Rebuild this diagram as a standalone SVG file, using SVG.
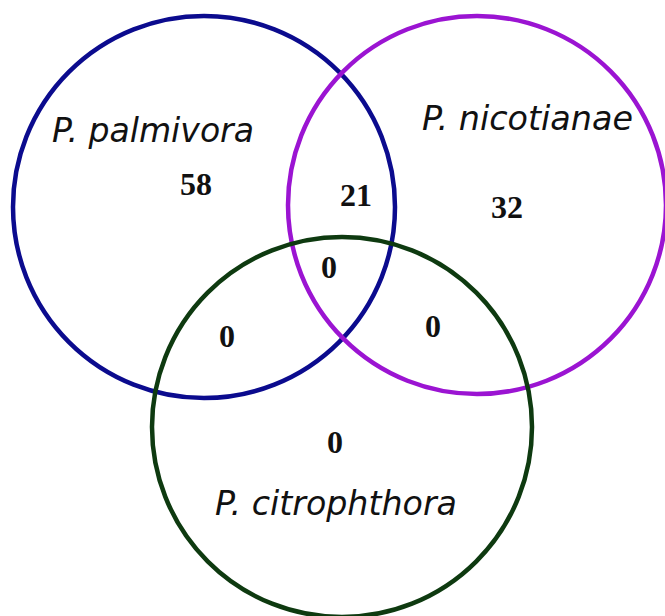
<svg xmlns="http://www.w3.org/2000/svg" width="665" height="616" viewBox="0 0 665 616">
<style>
.c{fill:none;stroke-width:4.5}
.lab{font-family:"DejaVu Sans",Verdana,sans-serif;font-style:italic;font-size:34px;fill:#111}
.num{font-family:"Liberation Serif","Times New Roman",serif;font-weight:bold;font-size:32px;fill:#111;text-anchor:middle}
</style>
<rect width="665" height="616" fill="#fff"/>
<g id="connectors"></g>
<g id="palmivora">
<circle class="c" cx="204" cy="207" r="191" stroke="#0b0b8e"/>
<text class="lab" x="52" y="142" textLength="202" lengthAdjust="spacingAndGlyphs">P. palmivora</text>
</g>
<g id="nicotianae">
<circle class="c" cx="477" cy="205" r="189" stroke="#9b14d2"/>
<text class="lab" x="422" y="130" textLength="211" lengthAdjust="spacingAndGlyphs">P. nicotianae</text>
</g>
<g id="citrophthora">
<circle class="c" cx="342" cy="427" r="190" stroke="#0e3a10"/>
<text class="lab" x="215" y="515" textLength="242" lengthAdjust="spacingAndGlyphs">P. citrophthora</text>
</g>
<g id="counts">
<text class="num" x="196" y="195">58</text>
<text class="num" x="356" y="206">21</text>
<text class="num" x="507" y="218">32</text>
<text class="num" x="329" y="278">0</text>
<text class="num" x="227" y="347">0</text>
<text class="num" x="433" y="337">0</text>
<text class="num" x="335" y="453">0</text>
</g>
</svg>
